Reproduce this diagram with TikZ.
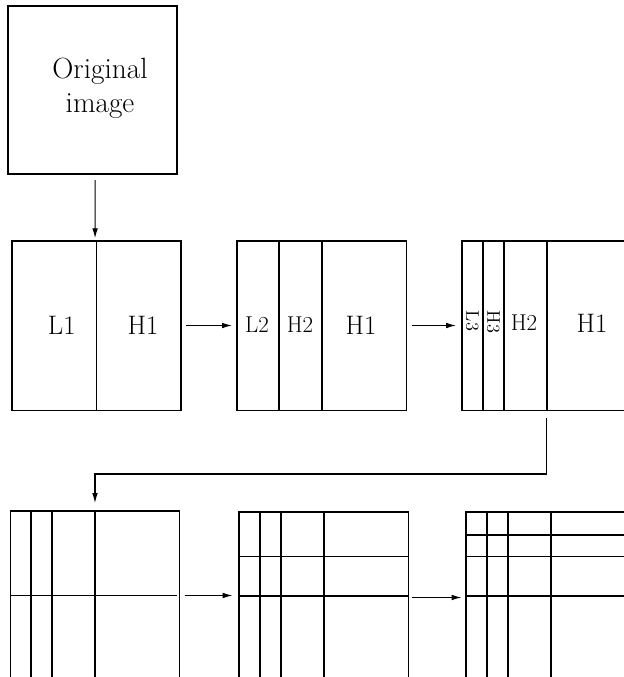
\documentclass[tikz,border=0pt]{standalone}
\usetikzlibrary{arrows.meta}
\tikzset{
    panel/.style={draw, line width=0.75pt, minimum width=4.225cm, minimum height=4.225cm, inner sep=0pt, outer sep=0pt},
    cut/.style={line width=0.75pt},
    flow/.style={line width=0.75pt, -{Latex[length=7pt,width=4pt]}},
    bigtxt/.style={font=\fontsize{19}{22}\selectfont},
    midtxt/.style={font=\fontsize{16.3}{19}\selectfont},
    tinytxt/.style={font=\fontsize{13}{15}\selectfont, rotate=-90},
}
\begin{document}
\begin{tikzpicture}[x=0.025cm, y=-0.025cm]
    \clip (0,0) rectangle (624,677);
    % original image
    \node[panel, minimum height=4.2cm] (orig) at (92.5,90) {};
    \node[font=\fontsize{20.8}{24.5}\selectfont, align=center] (origtxt) at (100,88) {Original\\image};
    % first row: splitting columns
    \node[panel] (lvlA) at (96.5,325.5) {};
    \node[panel] (lvlB) at (321.5,325.5) {};
    \node[panel] (lvlC) at (546.5,325.5) {};
    \begin{scope}[shift={(12,241)}]
        \draw[cut] (84.5,0) -- (84.5,169);
    \end{scope}
    \begin{scope}[shift={(237,241)}]
        \foreach \x in {42,85} \draw[cut] (\x,0) -- (\x,169);
    \end{scope}
    \begin{scope}[shift={(462,241)}]
        \foreach \x in {21,42,85} \draw[cut] (\x,0) -- (\x,169);
    \end{scope}
    \foreach \nm/\x/\y/\sty/\lab in {tLa/61.7/325/bigtxt/L1, tHa/143/325/bigtxt/H1,
        tLb/257/325/midtxt/L2, tHb/300/325/midtxt/H2, tHHb/361/325/bigtxt/H1,
        tLc/472.5/321/tinytxt/L3, tHc/493.5/322/tinytxt/H3, tHHc/524/323/midtxt/H2, tHHHc/592/323/bigtxt/H1}
        \node[\sty] (\nm) at (\x,\y) {\lab};
    % second row: splitting rows
    \node[panel] (rowA) at (95,595.5) {};
    \node[panel] (rowB) at (323.5,596.5) {};
    \node[panel] (rowC) at (550.5,596.5) {};
    \foreach \sx/\sy in {10/511, 239/512, 466/512} {
        \begin{scope}[shift={(\sx,\sy)}]
            \foreach \x in {21,42,85} \draw[cut] (\x,0) -- (\x,169);
        \end{scope}
    }
    \begin{scope}[shift={(10,511)}]
        \draw[cut] (0,84.5) -- (166.5,84.5);
    \end{scope}
    \begin{scope}[shift={(239,512)}]
        \foreach \y in {44.7,84} \draw[cut] (0,\y) -- (169,\y);
    \end{scope}
    \begin{scope}[shift={(466,512)}]
        \foreach \y in {23,44.7,84} \draw[cut] (0,\y) -- (169,\y);
    \end{scope}
    % arrows
    \draw[flow, shorten <=4.3pt, shorten >=2pt] ([xshift=1.8pt]orig.south) -- ([xshift=-1pt]lvlA.north);
    \draw[flow, shorten <=3.6pt, shorten >=3.6pt] (lvlA.east) -- (lvlB.west);
    \draw[flow, shorten <=4.3pt, shorten >=4.3pt] (lvlB.east) -- (lvlC.west);
    \coordinate (bend) at (95,474);
    \draw[flow, shorten <=5.7pt, shorten >=5.7pt] (lvlC.south) |- (bend) -- (rowA.north);
    \draw[flow, shorten <=3.6pt, shorten >=4.6pt] (rowA.east) -- (rowA.east -| rowB.west);
    \draw[flow, shorten <=2.8pt, shorten >=3.2pt] ([yshift=-0.7pt]rowB.east) -- ([yshift=-0.7pt]rowB.east -| rowC.west);
\end{tikzpicture}
\end{document}
